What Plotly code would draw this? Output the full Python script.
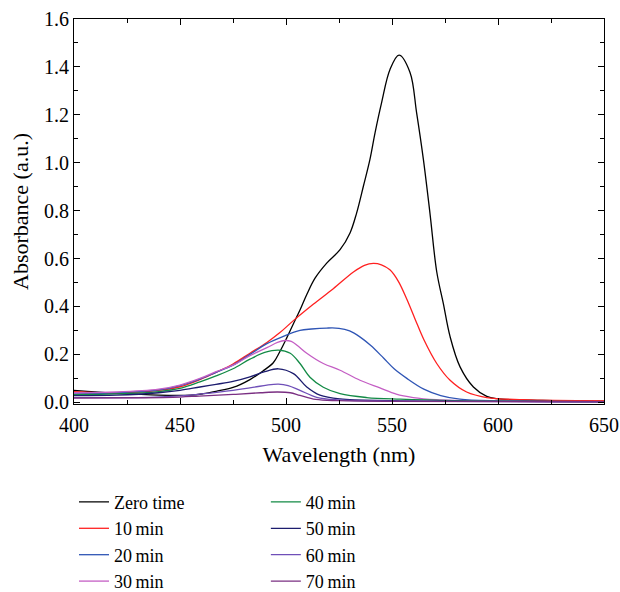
import plotly.graph_objects as go

# Wavelength (nm) / absorbance (a.u.)
wl_0 = [400, 420, 440, 455, 461, 467, 475, 483, 489, 494, 497, 500.3, 503.5, 506.6, 509.8, 513.7, 519.2, 525.5, 530.2, 533.3, 536.5, 539.6, 542, 545.1, 549.1, 553.3, 558.5, 561.6, 564.8, 567.9, 571.1, 574.2, 577.4, 582.1, 588.4, 594.7, 599.4, 621, 650]
ab_0 = [0.050, 0.038, 0.030, 0.030, 0.036, 0.046, 0.062, 0.095, 0.130, 0.165, 0.210, 0.268, 0.328, 0.385, 0.450, 0.518, 0.581, 0.637, 0.707, 0.790, 0.902, 1.014, 1.125, 1.251, 1.390, 1.449, 1.377, 1.209, 1.014, 0.790, 0.545, 0.413, 0.274, 0.148, 0.064, 0.025, 0.015, 0.008, 0.005]

wl_10 = [400, 420, 440, 450, 459.4, 467, 475, 483, 491, 497, 503.5, 513, 522.3, 531.8, 537, 541.2, 545, 549, 553, 557, 561, 565, 571.1, 577.4, 585.2, 594.7, 612, 650]
ab_10 = [0.045, 0.040, 0.050, 0.065, 0.095, 0.125, 0.160, 0.205, 0.250, 0.290, 0.341, 0.410, 0.474, 0.544, 0.572, 0.580, 0.574, 0.553, 0.505, 0.430, 0.345, 0.262, 0.162, 0.092, 0.043, 0.020, 0.011, 0.006]

wl_20 = [400, 420, 440, 450, 459.4, 467, 475, 483, 491, 498.7, 506.6, 512, 519.2, 525, 530, 535, 540, 546, 551, 557, 565, 573, 582, 600, 650]
ab_20 = [0.035, 0.040, 0.052, 0.070, 0.097, 0.125, 0.155, 0.200, 0.245, 0.275, 0.300, 0.306, 0.310, 0.309, 0.298, 0.272, 0.237, 0.185, 0.140, 0.100, 0.055, 0.028, 0.013, 0.006, 0.003]

wl_30 = [400, 420, 440, 450, 459.4, 467, 475, 483, 491, 496, 499.5, 502.5, 505.5, 509.8, 517.6, 525.5, 534.9, 544.3, 552, 560, 571, 590, 650]
ab_30 = [0.040, 0.043, 0.055, 0.072, 0.100, 0.128, 0.155, 0.195, 0.228, 0.250, 0.258, 0.254, 0.236, 0.205, 0.162, 0.134, 0.092, 0.060, 0.034, 0.020, 0.011, 0.006, 0.003]

wl_40 = [400, 420, 440, 450, 459.4, 467, 475, 483, 490, 496.4, 502, 506.6, 511.3, 517.6, 525.5, 538, 553.8, 580, 650]
ab_40 = [0.032, 0.035, 0.045, 0.058, 0.085, 0.110, 0.140, 0.180, 0.208, 0.218, 0.205, 0.162, 0.105, 0.063, 0.036, 0.020, 0.013, 0.007, 0.003]

wl_50 = [400, 420, 440, 450, 459.4, 467, 475, 483, 490, 496.4, 503.5, 509.8, 516, 525.5, 550, 650]
ab_50 = [0.028, 0.030, 0.040, 0.050, 0.064, 0.075, 0.087, 0.106, 0.128, 0.140, 0.120, 0.064, 0.030, 0.014, 0.007, 0.003]

wl_60 = [400, 430, 450, 460, 475, 485, 491, 496.4, 501, 506.6, 514.5, 525, 550, 650]
ab_60 = [0.020, 0.020, 0.027, 0.035, 0.050, 0.063, 0.072, 0.076, 0.070, 0.050, 0.021, 0.010, 0.005, 0.002]

wl_70 = [400, 430, 450, 459, 475, 488, 496, 502, 506.6, 514, 525, 550, 650]
ab_70 = [0.018, 0.019, 0.022, 0.026, 0.033, 0.040, 0.043, 0.040, 0.029, 0.012, 0.007, 0.004, 0.002]

names = ["Zero time", "10\u2009min", "20\u2009min", "30\u2009min", "40\u2009min", "50\u2009min", "60\u2009min", "70\u2009min"]
colors = ["#000000", "#ff2020", "#2f55b5", "#c45ec4", "#128a45", "#1c1c6e", "#6f4fb8", "#7a2f82"]
series = [(wl_0, ab_0), (wl_10, ab_10), (wl_20, ab_20), (wl_30, ab_30),
          (wl_40, ab_40), (wl_50, ab_50), (wl_60, ab_60), (wl_70, ab_70)]

FONT = "Liberation Serif"
fig = go.Figure()
for i, ((x, y), n, c) in enumerate(zip(series, names, colors)):
    fig.add_trace(go.Scatter(
        x=x, y=y, name=n, mode="lines",
        line=dict(color=c, width=1.3, shape="spline", smoothing=1.0),
        legend="legend" if i < 4 else "legend2",
    ))

axis_common = dict(showline=True, linecolor="black", linewidth=1, mirror="allticks",
                   ticks="inside", ticklen=6, tickcolor="black", showgrid=False,
                   zeroline=False, automargin=False,
                   tickfont=dict(family=FONT, size=20, color="black"))

fig.update_layout(
    width=620, height=592,
    margin=dict(l=74, r=16, t=19, b=188, autoexpand=False),
    plot_bgcolor="white", paper_bgcolor="white",
    font=dict(family=FONT, size=20, color="black"),
    xaxis=dict(range=[400, 650], tickvals=[400, 450, 500, 550, 600, 650],
               ticklabelstandoff=3,
               minor=dict(dtick=25, tick0=400, ticks="inside", ticklen=4, tickcolor="black"),
               title=dict(text="Wavelength (nm)", font=dict(family=FONT, size=22), standoff=11),
               **axis_common),
    yaxis=dict(range=[-0.007, 1.6], tickvals=[0, 0.2, 0.4, 0.6, 0.8, 1.0, 1.2, 1.4, 1.6],
               tickformat=".1f",
               minor=dict(dtick=0.1, tick0=0, ticks="inside", ticklen=4, tickcolor="black"),
               title=dict(text="Absorbance (a.u.)", font=dict(family=FONT, size=22), standoff=9),
               **axis_common),
    legend=dict(x=0.0, y=-0.207, xanchor="left", yanchor="top",
                font=dict(family=FONT, size=18), tracegroupgap=0, bgcolor="rgba(0,0,0,0)"),
    legend2=dict(x=0.362, y=-0.207, xanchor="left", yanchor="top",
                 font=dict(family=FONT, size=18), tracegroupgap=0, bgcolor="rgba(0,0,0,0)"),
)

fig.write_html("out.html", config={"displayModeBar": False},
               post_script="document.body.style.margin='0px';")
